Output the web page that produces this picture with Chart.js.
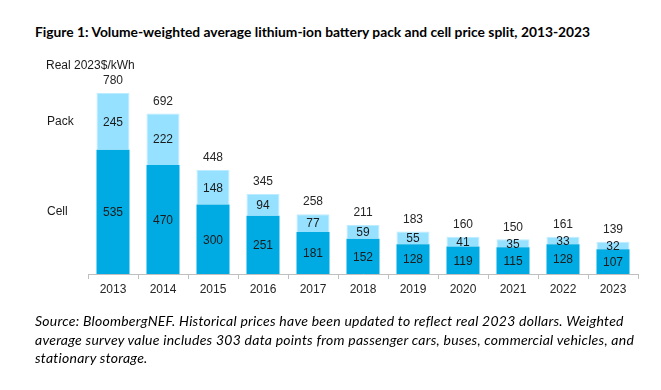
<!DOCTYPE html>
<html>
<head>
<meta charset="utf-8">
<script src="https://cdn.jsdelivr.net/npm/chart.js@4"></script>
<style>
  body { margin: 0; background: #fff; width: 661px; height: 390px; position: relative; overflow: hidden; }
  #wrap { position: absolute; left: 0; top: 0; width: 661px; height: 390px; }
  .title { position: absolute; left: 35px; top: 23px; font: bold 13.8px Lato, sans-serif; color: #000; white-space: nowrap; }
  .source { position: absolute; left: 35px; top: 312px; font: italic 14px Lato, sans-serif; letter-spacing: 0.25px; line-height: 18.5px; color: #000; white-space: nowrap; }
</style>
</head>
<body>
<div class="title">Figure 1: Volume-weighted average lithium-ion battery pack and cell price split, 2013-2023</div>
<div id="wrap"><canvas id="myChart"></canvas></div>
<div class="source">Source: BloombergNEF. Historical prices have been updated to reflect real 2023 dollars. Weighted<br>average survey value includes 303 data points from passenger cars, buses, commercial vehicles, and<br>stationary storage.</div>
<script>
const years = ['2013', '2014', '2015', '2016', '2017', '2018', '2019', '2020', '2021', '2022', '2023'];
const cellPrice = [535, 470, 300, 251, 181, 152, 128, 119, 115, 128, 107];
const packPrice = [245, 222, 148, 94, 77, 59, 55, 41, 35, 33, 32];
const totalPrice = [780, 692, 448, 345, 258, 211, 183, 160, 150, 161, 139];

const labelFont = '12px "Liberation Sans", Arial, sans-serif';

// numbers inside the bars + totals on top + the side labels
const labelsPlugin = {
    id: 'labelsPlugin',
    afterDatasetsDraw(chart) {
        const ctx = chart.ctx;
        ctx.save();
        ctx.font = labelFont;
        ctx.fillStyle = '#1a1a1a';
        ctx.textAlign = 'center';
        ctx.textBaseline = 'middle';
        chart.data.datasets.forEach((ds, i) => {
            chart.getDatasetMeta(i).data.forEach((bar, j) => {
                const mid = (bar.y + bar.base) / 2;
                ctx.fillText(ds.data[j], bar.x, mid + 1);
            });
        });
        // totals above
        const top = chart.getDatasetMeta(1).data;
        top.forEach((bar, j) => {
            ctx.fillStyle = '#262626';
            ctx.fillText(totalPrice[j], bar.x, bar.y - 12);
        });
        // side labels
        const y = chart.scales.y;
        ctx.textAlign = 'left';
        ctx.fillStyle = '#1a1a1a';
        ctx.fillText('Pack', 47, y.getPixelForValue(cellPrice[0] + packPrice[0] / 2));
        ctx.fillText('Cell', 47, y.getPixelForValue(cellPrice[0] / 2));
        ctx.fillText('Real 2023$/kWh', 46, 66);
        ctx.restore();
    }
};

let myChart = new Chart(document.getElementById('myChart'), {
    type: 'bar',
    data: {
        labels: years,
        datasets: [{
            label: 'Cell',
            data: cellPrice,
            backgroundColor: '#00ABE3',
            borderWidth: 0
        }, {
            label: 'Pack',
            data: packPrice,
            backgroundColor: '#96E1FF',
            borderColor: '#BDEBFF',
            borderWidth: 1
        }]
    },
    options: {
        responsive: true,
        maintainAspectRatio: false,
        animation: false,
        barPercentage: 0.66,
        categoryPercentage: 1.0,
        layout: {
            padding: { left: 88, right: 23, top: 93, bottom: 90 }
        },
        plugins: {
            legend: { display: false },
            tooltip: { enabled: false }
        },
        scales: {
            x: {
                stacked: true,
                afterFit: s => { s.height = 26; },
                border: { color: '#BFBFBF', width: 1 },
                grid: { drawOnChartArea: false, color: '#BFBFBF', tickLength: 5, offset: true },
                ticks: {
                    color: '#262626',
                    font: { family: '"Liberation Sans", Arial, sans-serif', size: 12 },
                    padding: 3
                }
            },
            y: {
                stacked: true,
                display: false,
                min: 0,
                max: 780
            }
        }
    },
    plugins: [labelsPlugin]
});
</script>
</body>
</html>
